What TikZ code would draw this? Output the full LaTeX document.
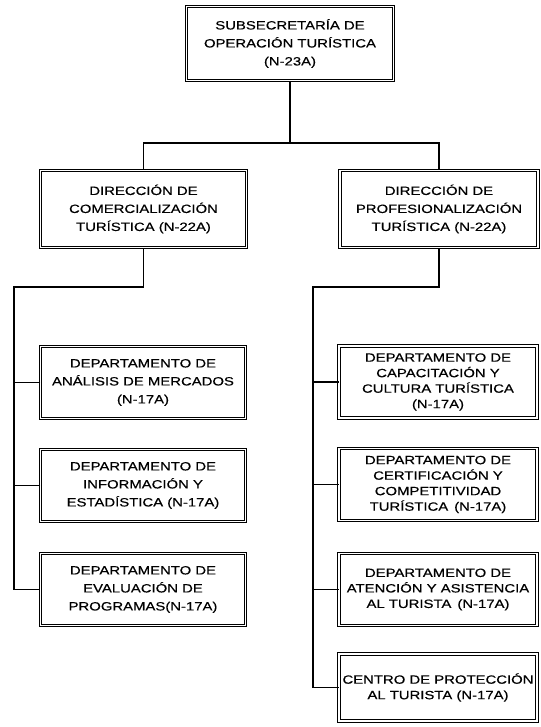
\documentclass[tikz,border=0pt]{standalone}
\usepackage{fontspec}
\setmainfont{Liberation Sans}[FakeStretch=1.24, FakeBold=0.4]
\usetikzlibrary{positioning,calc}

\begin{document}
\begin{tikzpicture}[
  x=1pt, y=-1pt,
  unit/.style={draw=black, double=white, double distance=1.5pt, line width=1pt, fill=white, align=center, inner sep=2pt, font=\fontsize{12}{18}\selectfont},
  topunit/.style={unit, minimum width=207pt, minimum height=74pt},
  dirunit/.style={unit, minimum width=206pt, minimum height=77pt},
  depunit/.style={unit, minimum width=205pt, minimum height=72pt},
  tallunit/.style={depunit, minimum width=198pt, font=\fontsize{12}{15.5}\selectfont},
  link/.style={black, line width=1.1pt}
]
\useasboundingbox[fill=white] (0,0) rectangle (540,727);

\node[topunit] (top) at (290,43.5) {SUBSECRETARÍA DE\\OPERACIÓN TURÍSTICA\\(N-23A)};

\node[dirunit] (dirL) at (143.5,209) {DIRECCIÓN DE\\COMERCIALIZACIÓN\\TURÍSTICA (N-22A)};
\node[dirunit, minimum width=198pt] (dirR) at (439,209) {DIRECCIÓN DE\\PROFESIONALIZACIÓN\\TURÍSTICA (N-22A)};

\node[depunit] (depL1) at (143,382.5) {DEPARTAMENTO DE\\ANÁLISIS DE MERCADOS\\(N-17A)};
\node[depunit] (depL2) at (143,485.5) {DEPARTAMENTO DE\\INFORMACIÓN Y\\ESTADÍSTICA (N-17A)};
\node[depunit] (depL3) at (143,589.5) {DEPARTAMENTO DE\\EVALUACIÓN DE\\PROGRAMAS(N-17A)};

\node[tallunit] (depR1) at (438,382) {DEPARTAMENTO DE\\CAPACITACIÓN Y\\CULTURA TURÍSTICA\\(N-17A)};
\node[tallunit] (depR2) at (438,484.5) {DEPARTAMENTO DE\\CERTIFICACIÓN Y\\COMPETITIVIDAD\\TURÍSTICA\enspace(N-17A)};
\node[tallunit] (depR3) at (438,589.5) {DEPARTAMENTO DE\\ATENCIÓN Y ASISTENCIA\\AL TURISTA\enspace(N-17A)};
\node[tallunit, minimum height=67pt] (depR4) at (438,687.5) {CENTRO DE PROTECCIÓN\\AL TURISTA (N-17A)};

% buses
\coordinate (topbus) at (290,143);
\coordinate (leftbus) at (14,287);
\coordinate (rightbus) at (313,287);

\draw[link] (top.south) -- (topbus);
\draw[link] (dirL.north) |- (topbus) -| (dirR.north);

\draw[link] (dirL.south) |- (leftbus) |- (depL3.west);
\draw[link] (depL1.west) -- (depL1.west -| leftbus);
\draw[link] (depL2.west) -- (depL2.west -| leftbus);

\draw[link] (dirR.south) |- (rightbus) |- (depR4.west);
\draw[link] (depR1.west) -- (depR1.west -| rightbus);
\draw[link] (depR2.west) -- (depR2.west -| rightbus);
\draw[link] (depR3.west) -- (depR3.west -| rightbus);
\end{tikzpicture}
\end{document}
